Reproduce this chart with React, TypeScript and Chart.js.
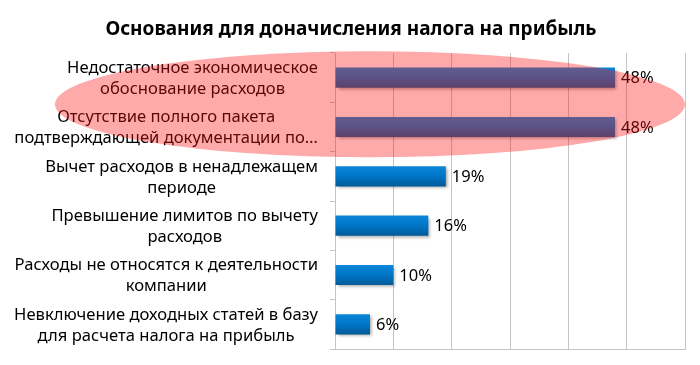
import React, { useEffect, useRef } from "react";
import { Chart, registerables } from "chart.js";

Chart.register(...registerables);

const chartTitle = "Основания для доначисления налога на прибыль";
const categories: string[][] = [
  ["Недостаточное экономическое", "обоснование расходов"],
  ["Отсутствие полного пакета", "подтверждающей документации по…"],
  ["Вычет расходов в ненадлежащем", "периоде"],
  ["Превышение лимитов по вычету", "расходов"],
  ["Расходы не относятся к деятельности", "компании"],
  ["Невключение доходных статей в базу", "для расчета налога на прибыль"],
];
const values = [48, 48, 19, 16, 10, 6];
const highlighted = [0, 1];
const xMin = 0;
const xMax = 60;
const xStep = 10;

const FONT = "'Noto Sans', 'DejaVu Sans', sans-serif";

export default function App() {
  const ref = useRef<HTMLCanvasElement | null>(null);

  useEffect(() => {
    const canvas = ref.current;
    if (!canvas) return;

    const barShadow = {
      id: "barShadow",
      beforeDatasetsDraw(chart: any) {
        const ctx = chart.ctx;
        ctx.save();
        ctx.shadowColor = "rgba(0,0,0,0.35)";
        ctx.shadowOffsetX = 2;
        ctx.shadowOffsetY = 2;
        ctx.shadowBlur = 3;
      },
      afterDatasetsDraw(chart: any) {
        const ctx = chart.ctx;
        ctx.restore();
        const meta = chart.getDatasetMeta(0);
        ctx.save();
        ctx.font = `16.5px ${FONT}`;
        ctx.fillStyle = "#000";
        ctx.textAlign = "left";
        ctx.textBaseline = "middle";
        meta.data.forEach((bar: any, i: number) => {
          ctx.fillText(values[i] + "%", bar.x + 6, bar.y + 1);
        });
        ctx.restore();
      },
    };

    const overlay = {
      id: "overlay",
      afterDraw(chart: any) {
        const ctx = chart.ctx;
        const yScale = chart.scales.y;
        const area = chart.chartArea;
        ctx.save();
        // title
        ctx.font = `bold 19px ${FONT}`;
        ctx.fillStyle = "#000";
        ctx.textAlign = "center";
        ctx.textBaseline = "alphabetic";
        ctx.fillText(chartTitle, 351, 35);
        // category labels
        ctx.font = `16.6px ${FONT}`;
        ctx.textBaseline = "middle";
        const right = area.left - 17;
        categories.forEach((lines, i) => {
          const yc = yScale.getPixelForValue(i) + 1;
          const w = Math.max(...lines.map((l) => ctx.measureText(l).width));
          const cx = right - w / 2;
          const lh = 21;
          lines.forEach((l, j) => {
            ctx.fillText(l, cx, yc + (j - (lines.length - 1) / 2) * lh);
          });
        });
        // highlight ellipse
        const y0 = yScale.getPixelForValue(highlighted[0]);
        const y1 = yScale.getPixelForValue(highlighted[highlighted.length - 1]);
        const cy = (y0 + y1) / 2 + 2;
        ctx.beginPath();
        ctx.ellipse(370, cy, 315, 53, 0, 0, Math.PI * 2);
        ctx.fillStyle = "rgba(255, 20, 20, 0.36)";
        ctx.fill();
        ctx.restore();
      },
    };

    const chart = new Chart(canvas, {
      type: "bar",
      data: {
        labels: categories.map((c) => c.join(" ")),
        datasets: [
          {
            data: values,
            barPercentage: 0.5,
            categoryPercentage: 0.82,
            borderWidth: 0,
            backgroundColor: (c: any) => {
              const ch = c.chart;
              const area = ch.chartArea;
              const ys = ch.scales.y;
              if (!area || !ys || c.dataIndex === undefined) return "#0070c0";
              const band = (area.bottom - area.top) / categories.length;
              const half = band * 0.41 * 0.5;
              const yc = ys.getPixelForValue(c.dataIndex);
              const g = ch.ctx.createLinearGradient(0, yc - half, 0, yc + half);
              g.addColorStop(0, "#0a86d8");
              g.addColorStop(0.5, "#0075c6");
              g.addColorStop(1, "#005a98");
              return g;
            },
          },
        ],
      },
      options: {
        indexAxis: "y",
        animation: false,
        responsive: false,
        devicePixelRatio: 1,
        layout: { padding: { top: 53, bottom: 16, right: 15, left: 0 } },
        plugins: {
          legend: { display: false },
          title: { display: false },
          tooltip: { enabled: false },
        },
        scales: {
          x: {
            min: xMin,
            max: xMax,
            ticks: { display: false, stepSize: xStep },
            grid: { color: "#c4c4c4", drawTicks: false, lineWidth: 1 },
            border: { display: true, color: "#c4c4c4" },
          },
          y: {
            ticks: { display: false },
            grid: {
              offset: true,
              drawOnChartArea: false,
              drawTicks: true,
              tickLength: 5,
              color: "#c4c4c4",
            },
            border: { display: true, color: "#c4c4c4" },
            afterFit: (scale: any) => {
              scale.width = 335;
            },
          },
        },
      },
      plugins: [barShadow, overlay],
    } as any);

    return () => chart.destroy();
  }, []);

  return (
    <div style={{ position: "absolute", left: 0, top: 0, width: 700, height: 365, background: "#fff" }}>
      <canvas ref={ref} width={700} height={365} style={{ width: 700, height: 365 }} />
    </div>
  );
}
